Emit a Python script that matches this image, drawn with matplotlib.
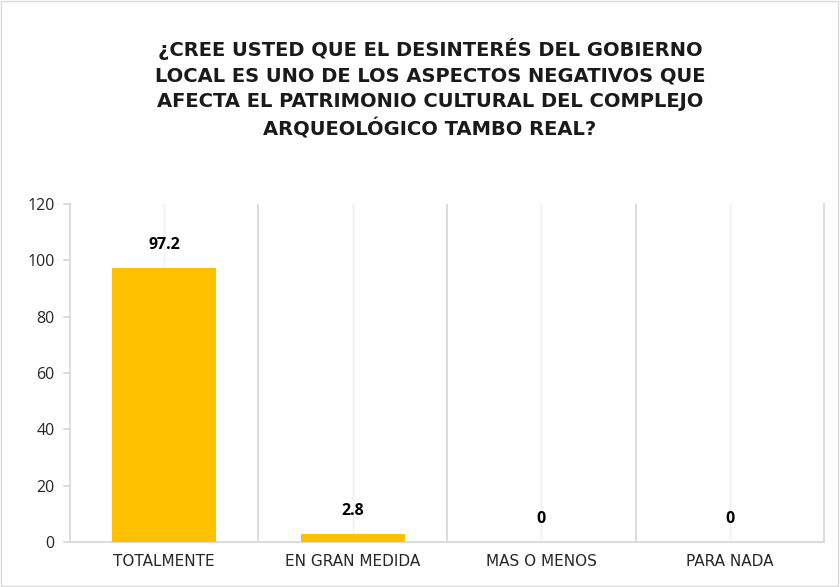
import numpy as np
import matplotlib.pyplot as plt
from matplotlib.patches import Rectangle

categories = ["TOTALMENTE", "EN GRAN MEDIDA", "MAS O MENOS", "PARA NADA"]
values = [97.2, 2.8, 0, 0]
value_labels = ["97.2", "2.8", "0", "0"]
yticks = [0, 20, 40, 60, 80, 100, 120]
title = ("¿CREE USTED QUE EL DESINTERÉS DEL GOBIERNO\n"
         "LOCAL ES UNO DE LOS ASPECTOS NEGATIVOS QUE\n"
         "AFECTA EL PATRIMONIO CULTURAL DEL COMPLEJO\n"
         "ARQUEOLÓGICO TAMBO REAL?")

plt.rcParams['font.family'] = ['Open Sans', 'DejaVu Sans']

fig = plt.figure(figsize=(8.4, 5.87), dpi=100)
ax = fig.add_axes([0.0833, 0.0767, 0.8977, 0.5758])

x = np.arange(len(categories))
ax.bar(x, values, width=0.55, color="#FFC000", zorder=3)

for xi, v, lab in zip(x, values, value_labels):
    ax.annotate(lab, (xi, v), xytext=(0, 16.5), textcoords="offset points",
                ha="center", va="center", fontsize=11.5, fontweight="bold",
                color="black")

# grid: category boundaries and faint centre lines
for b in np.arange(0.5, len(categories) - 0.5, 1):
    ax.axvline(b, color="#D9D9D9", lw=1.3, zorder=1)
for c in x:
    ax.axvline(c, color="#EFEFEF", lw=1.0, zorder=1)

ax.set_xlim(-0.5, len(categories) - 0.5)
ax.set_ylim(0, 120)
ax.set_yticks(yticks)
ax.set_yticklabels([str(t) for t in yticks], fontsize=11.5, color="#262626")
ax.set_xticks(x)
ax.set_xticklabels(categories, fontsize=11, color="#262626",
                   family=["DejaVu Sans"])
ax.tick_params(axis="x", length=0, pad=9)
ax.tick_params(axis="y", length=5, width=1.3, color="#D9D9D9", pad=6)

for s in ["left", "bottom", "right"]:
    ax.spines[s].set_color("#D9D9D9")
    ax.spines[s].set_linewidth(1.3)
ax.spines["top"].set_visible(False)

fig.text(0.512, 0.849, title, ha="center", va="center", fontsize=14,
         fontweight="bold", color="#1a1a1a", linespacing=1.42,
         family=["DejaVu Sans"])

fig.patches.append(Rectangle((0.001, 0.002), 0.997, 0.996, transform=fig.transFigure,
                             fill=False, edgecolor="#D9D9D9", lw=1.0))

fig.savefig("out.png", dpi=100)
